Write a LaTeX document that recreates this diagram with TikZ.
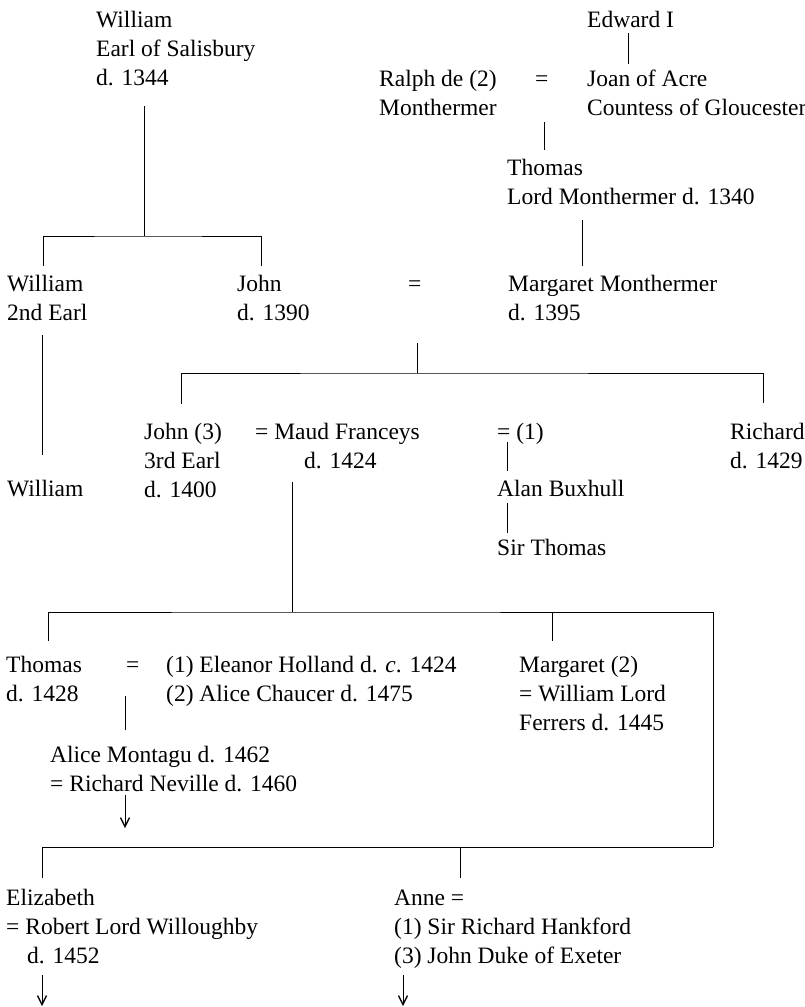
\documentclass[tikz,border=0pt]{standalone}
\usepackage{fontspec}
\setmainfont{Liberation Serif}
\usetikzlibrary{arrows.meta}
\newcommand\kinlines[1]{\begin{tabular}[t]{@{}l@{}}#1\end{tabular}}

\begin{document}
\begin{tikzpicture}
[x=1pt, y=-1pt,
person/.style={anchor=base west, inner sep=0pt,
  font=\fontsize{23.5}{29}\selectfont},
line/.style={line width=0.9pt},
desc/.style={line width=0.9pt, -{Straight Barb[length=9pt,width=9pt,line width=1.3pt]}}]
\useasboundingbox (0,0) rectangle (805,1007);

% first generations
\node[person] (wsal)  at (96,27)  {\kinlines{William\\Earl of Salisbury\\d. 1344}};
\node[person] (edw)   at (587,27) {Edward I};
\node[person] (ralph) at (379,86) {\kinlines{Ralph de (2)\\Monthermer}};
\node[person] (eqa)   at (535,86) {=};
\node[person] (joan)  at (587,86) {\kinlines{Joan of Acre\\Countess of Gloucester}};
\node[person] (thmon) at (507,175) {\kinlines{Thomas\\Lord Monthermer d. 1340}};

\node[person] (will2) at (7,291)   {\kinlines{William\\2nd Earl}};
\node[person] (john)  at (237,291) {\kinlines{John\\d. 1390}};
\node[person] (eqb)   at (408,291) {=};
\node[person] (marg)  at (508,291) {\kinlines{Margaret Monthermer\\d. 1395}};

\node[person] (john3) at (144,439) {\kinlines{John (3)\\3rd Earl\\d. 1400}};
\node[person] (maud)  at (255,439) {\kinlines{= Maud Franceys\\\hspace*{49pt}d. 1424}};
\node[person] (eqone) at (497,439) {= (1)};
\node[person] (alan)  at (497,496) {Alan Buxhull};
\node[person] (sirth) at (497,555) {Sir Thomas};
\node[person] (rich)  at (730,439) {\kinlines{Richard\\d. 1429}};
\node[person] (will3) at (7,496)   {William};

\node[person] (thom)  at (6,672)   {\kinlines{Thomas\\d. 1428}};
\node[person] (eqc)   at (126,672) {=};
\node[person] (wives) at (166,672) {\kinlines{(1) Eleanor Holland d. \textit{c}. 1424\\(2) Alice Chaucer d. 1475}};
\node[person] (marg2) at (519,672) {\kinlines{Margaret (2)\\= William Lord\\Ferrers d. 1445}};
\node[person] (alice) at (50,762)  {\kinlines{Alice Montagu d. 1462\\= Richard Neville d. 1460}};

\node[person] (eliz)  at (6,905)   {\kinlines{Elizabeth\\= Robert Lord Willoughby\\\hspace*{21pt}d. 1452}};
\node[person] (anne)  at (394,905) {\kinlines{Anne =\\(1) Sir Richard Hankford\\(3) John Duke of Exeter}};

% bars
\coordinate (barA) at (144,236);
\coordinate (barB) at (417,373);
\coordinate (barC) at (292,612);
\coordinate (barD) at (460,847);

\draw[line] (628,33) -- (628,64);
\draw[line] (544,122) -- (544,150);
\draw[line] (144,106) -- (barA);
\draw[line] (43,266) |- (barA) -| (261,266);
\draw[line] (582,220) -- (582,266);

\draw[line] (417,343) -- (barB);
\draw[line] (181,404) |- (barB) -| (763,403);
\draw[line] (42,335) -- (42,455);
\draw[line] (507,442) -- (507,471);
\draw[line] (507,503) -- (507,533);

\draw[line] (292,482) -- (barC);
\draw[line] (48,641) |- (barC) -| (713,847);
\draw[line] (552,612) -- (552,641);
\draw[line] (125,696) -- (125,730);
\draw[desc] (125,795) -- (125,828);

\draw[line] (42,878) |- (barD) -- (713,847);
\draw[line] (barD) -- (460,878);
\draw[desc] (42,975) -- (42,1006);
\draw[desc] (403,975) -- (403,1006);
\end{tikzpicture}
\end{document}
